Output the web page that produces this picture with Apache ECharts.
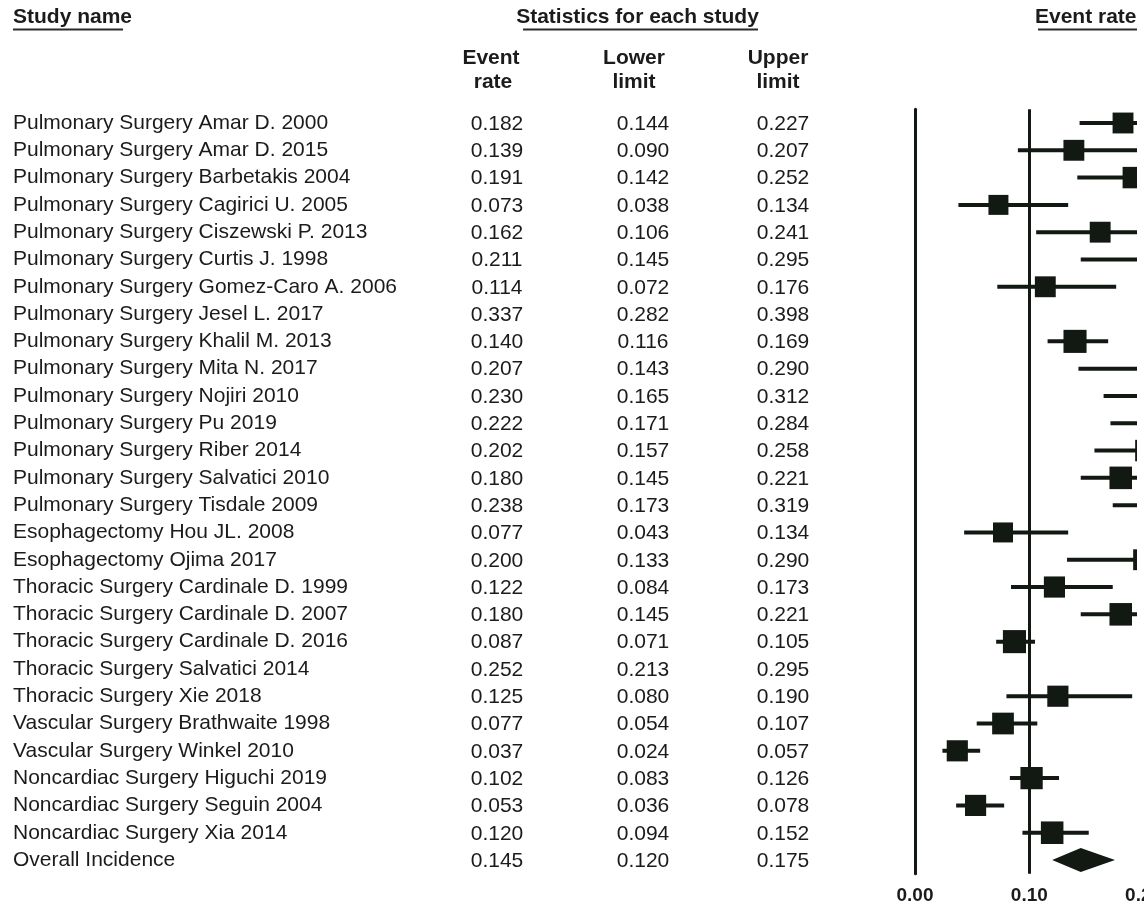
<!DOCTYPE html>
<html>
<head>
<meta charset="utf-8">
<script src="https://cdn.jsdelivr.net/npm/echarts@6/dist/echarts.min.js"></script>
<style>
  html, body { margin: 0; padding: 0; background: #ffffff; }
  #chart { width: 1144px; height: 904px; }
</style>
</head>
<body>
<div id="chart"></div>
<script>
// Forest plot: incidence of the event across thoracic / noncardiac surgery studies
const studyNames = [
  'Pulmonary Surgery Amar D. 2000',
  'Pulmonary Surgery Amar D. 2015',
  'Pulmonary Surgery Barbetakis 2004',
  'Pulmonary Surgery Cagirici U. 2005',
  'Pulmonary Surgery Ciszewski P. 2013',
  'Pulmonary Surgery Curtis J. 1998',
  'Pulmonary Surgery Gomez-Caro A. 2006',
  'Pulmonary Surgery Jesel L. 2017',
  'Pulmonary Surgery Khalil M. 2013',
  'Pulmonary Surgery Mita N. 2017',
  'Pulmonary Surgery Nojiri 2010',
  'Pulmonary Surgery Pu 2019',
  'Pulmonary Surgery Riber 2014',
  'Pulmonary Surgery Salvatici 2010',
  'Pulmonary Surgery Tisdale 2009',
  'Esophagectomy Hou JL. 2008',
  'Esophagectomy Ojima 2017',
  'Thoracic Surgery Cardinale D. 1999',
  'Thoracic Surgery Cardinale D. 2007',
  'Thoracic Surgery Cardinale D. 2016',
  'Thoracic Surgery Salvatici 2014',
  'Thoracic Surgery Xie 2018',
  'Vascular Surgery Brathwaite 1998',
  'Vascular Surgery Winkel 2010',
  'Noncardiac Surgery Higuchi 2019',
  'Noncardiac Surgery Seguin 2004',
  'Noncardiac Surgery Xia 2014'
];
const eventRate = [0.182, 0.139, 0.191, 0.073, 0.162, 0.211, 0.114, 0.337, 0.140, 0.207,
  0.230, 0.222, 0.202, 0.180, 0.238, 0.077, 0.200, 0.122, 0.180, 0.087,
  0.252, 0.125, 0.077, 0.037, 0.102, 0.053, 0.120];
const lowerLimit = [0.144, 0.090, 0.142, 0.038, 0.106, 0.145, 0.072, 0.282, 0.116, 0.143,
  0.165, 0.171, 0.157, 0.145, 0.173, 0.043, 0.133, 0.084, 0.145, 0.071,
  0.213, 0.080, 0.054, 0.024, 0.083, 0.036, 0.094];
const upperLimit = [0.227, 0.207, 0.252, 0.134, 0.241, 0.295, 0.176, 0.398, 0.169, 0.290,
  0.312, 0.284, 0.258, 0.221, 0.319, 0.134, 0.290, 0.173, 0.221, 0.105,
  0.295, 0.190, 0.107, 0.057, 0.126, 0.078, 0.152];
// relative study weights (%), shown as the area of each square
const studyWeight = [3.6, 3.6, 3.8, 3.3, 3.6, 3.5, 3.6, 3.8, 4.4, 3.5,
  3.5, 3.8, 3.8, 4.2, 3.5, 3.3, 3.6, 3.7, 4.2, 4.4,
  4.0, 3.7, 3.9, 3.7, 4.1, 3.7, 4.2];
const overallName = 'Overall Incidence';
const overallStats = [0.145, 0.120, 0.175]; // event rate, lower, upper
const axisTicks = [0, 0.1, 0.2, 0.3, 0.4];

const INK = '#121812';
const TEXT = '#1b1b1b';
const FONT = '"Liberation Sans", Arial, Helvetica, sans-serif';
const ROW_FONT = '21px ' + FONT;
const HEAD_FONT = 'bold 21px ' + FONT;

// column centres of the statistics table
const colX = [497, 643, 783];

const rowLabels = studyNames.concat([overallName]);
const studyRows = studyNames.map((n, i) => [i, eventRate[i], lowerLimit[i], upperLimit[i], studyWeight[i]]);
const tableRows = studyNames.map((n, i) => [i, eventRate[i], lowerLimit[i], upperLimit[i]])
  .concat([[studyNames.length, overallStats[0], overallStats[1], overallStats[2]]]);

const chart = echarts.init(document.getElementById('chart'), null, { renderer: 'canvas' });

function headerText(text, x, y, align) {
  return {
    type: 'text', x: x, y: y,
    style: { text: text, font: HEAD_FONT, fill: TEXT, align: align || 'center', verticalAlign: 'middle' }
  };
}
function underline(x1, x2, y) {
  return {
    type: 'line', shape: { x1: x1, y1: y, x2: x2, y2: y },
    style: { stroke: '#2a2a2a', lineWidth: 2 }
  };
}

chart.setOption({
  animation: false,
  backgroundColor: '#ffffff',
  grid: { left: 915, top: 109.35, width: 457.2, height: 764.3, containLabel: false, outerBoundsMode: 'none' },
  xAxis: {
    type: 'value', min: axisTicks[0], max: axisTicks[axisTicks.length - 1], interval: 0.1,
    axisLine: { show: false }, axisTick: { show: false }, splitLine: { show: false },
    axisLabel: {
      margin: 13, color: TEXT, fontFamily: FONT, fontSize: 19, fontWeight: 'bold',
      showMinLabel: true, hideOverlap: false, formatter: v => v.toFixed(2)
    }
  },
  yAxis: {
    type: 'category', data: rowLabels, inverse: true,
    axisLine: { show: true, lineStyle: { color: INK, width: 3 } },
    axisTick: { show: false }, splitLine: { show: false },
    axisLabel: { interval: 0, align: 'left', margin: 902, padding: [2, 0, 0, 0], color: TEXT, fontFamily: FONT, fontSize: 21 }
  },
  graphic: [
    headerText('Study name', 13, 17, 'left'),
    underline(13, 123, 29.5),
    headerText('Statistics for each study', 637.5, 17),
    underline(523, 758, 29.5),
    headerText('Event rate', 1035, 17, 'left'),
    underline(1038, 1137, 29.5),
    headerText('Event', 491, 58.5), headerText('rate', 493, 82.5),
    headerText('Lower', 634, 58.5), headerText('limit', 634, 82.5),
    headerText('Upper', 778, 58.5), headerText('limit', 778, 82.5),
    // plot region ends short of the page edge
    { type: 'rect', z: 100, shape: { x: 1137, y: 100, width: 10, height: 780 }, style: { fill: '#ffffff' } }
  ],
  series: [
    {
      // statistics table: event rate, lower and upper limit per row
      type: 'custom', name: 'table', clip: false, silent: true,
      data: tableRows,
      encode: { x: 1, y: 0 },
      renderItem(params, api) {
        const i = api.value(0);
        const y = api.coord([0, i])[1] + 1;
        const vals = [api.value(1), api.value(2), api.value(3)];
        return {
          type: 'group',
          children: vals.map((v, k) => ({
            type: 'text',
            style: { text: v.toFixed(3), x: colX[k], y: y, font: ROW_FONT, fill: TEXT, align: 'center', verticalAlign: 'middle' }
          }))
        };
      }
    },
    {
      // per-study confidence interval and weighted point estimate
      type: 'custom', name: 'studies', clip: false, silent: true,
      data: studyRows,
      encode: { x: [1, 2, 3], y: 0 },
      renderItem(params, api) {
        const i = api.value(0);
        const pE = api.coord([api.value(1), i]);
        const pLo = api.coord([api.value(2), i]);
        const pHi = api.coord([api.value(3), i]);
        const side = 11 * Math.sqrt(api.value(4));
        return {
          type: 'group',
          children: [
            { type: 'line', shape: { x1: pLo[0], y1: pLo[1], x2: pHi[0], y2: pHi[1] }, style: { stroke: INK, lineWidth: 4 } },
            { type: 'rect', shape: { x: pE[0] - side / 2, y: pE[1] - side / 2, width: side, height: side }, style: { fill: INK } }
          ]
        };
      },
      markLine: {
        silent: true, symbol: 'none', label: { show: false },
        lineStyle: { color: INK, width: 3, type: 'solid' },
        data: [{ xAxis: 0.1 }]
      }
    },
    {
      // pooled estimate diamond
      type: 'custom', name: 'overall', clip: false, silent: true,
      data: [[studyNames.length, overallStats[0], overallStats[1], overallStats[2]]],
      encode: { x: [1, 2, 3], y: 0 },
      renderItem(params, api) {
        const i = api.value(0);
        const c = api.coord([api.value(1), i]);
        const l = api.coord([api.value(2), i]);
        const r = api.coord([api.value(3), i]);
        const h = 12;
        return {
          type: 'polygon',
          shape: { points: [[l[0], c[1]], [c[0], c[1] - h], [r[0], c[1]], [c[0], c[1] + h]] },
          style: { fill: INK }
        };
      }
    }
  ]
});
</script>
</body>
</html>
